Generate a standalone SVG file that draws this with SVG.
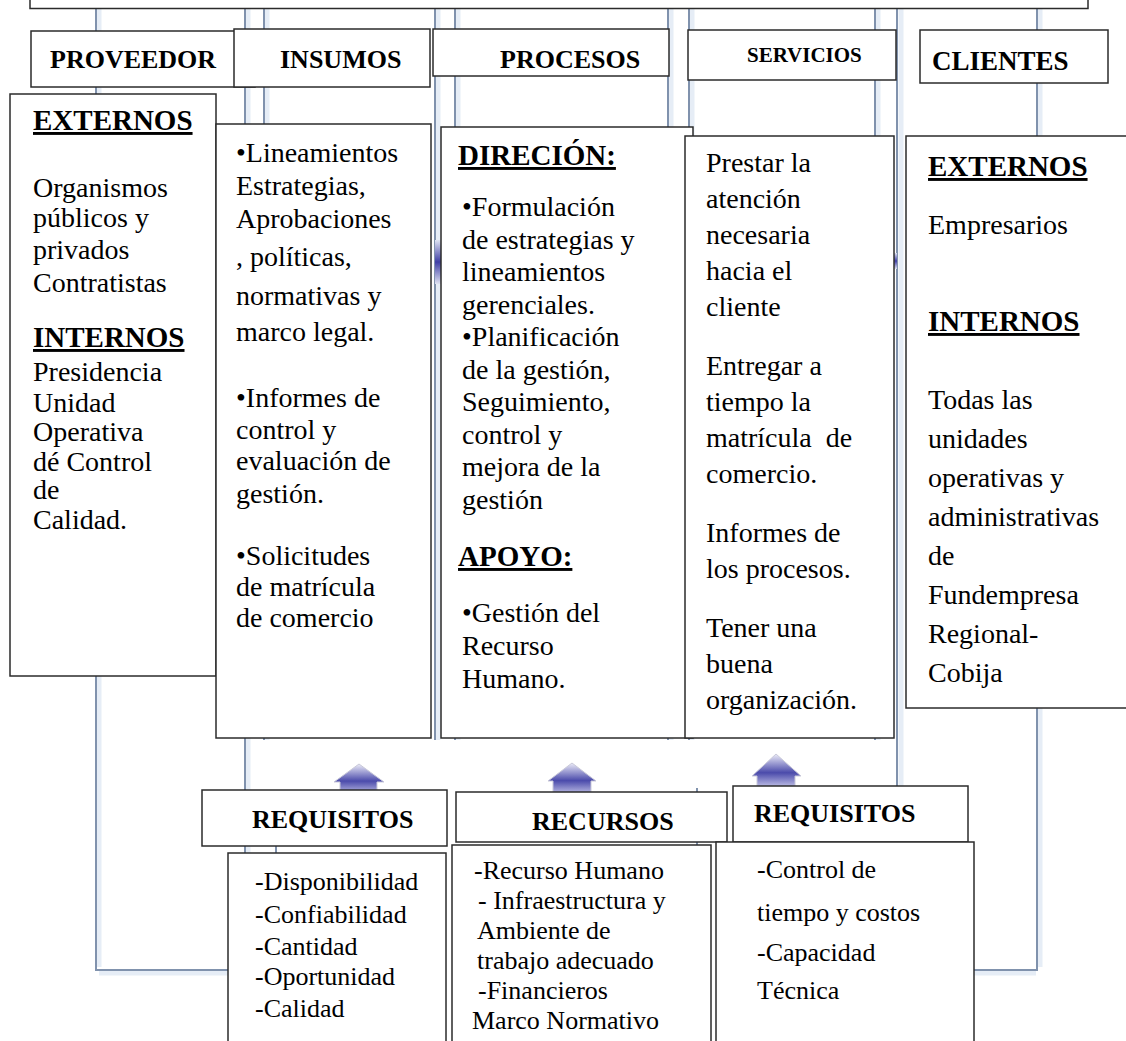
<svg xmlns="http://www.w3.org/2000/svg" width="1126" height="1041" viewBox="0 0 1126 1041">
  <style>
    .box { fill: #ffffff; stroke: #2b2b2b; stroke-width: 1.5; }
    .rail { stroke: #8092ad; stroke-width: 2; fill: none; }
    .glow { stroke: #e6edf6; stroke-width: 5; fill: none; }
    .t { font-family: "Liberation Serif", "Times New Roman", serif; fill: #000; }
    .hd { font-weight: bold; font-size: 26px; }
    .body { font-size: 28px; }
    .sub { font-weight: bold; font-size: 29px; text-decoration: underline; }
    .small { font-size: 26px; }
  </style>
  <defs>
    <linearGradient id="houseFill" x1="0" y1="0" x2="0" y2="1">
      <stop offset="0" stop-color="#ececf8"/>
      <stop offset="0.55" stop-color="#4b4bab"/>
      <stop offset="1" stop-color="#c8c8ea"/>
    </linearGradient>
    <linearGradient id="sideFill" x1="0" y1="0" x2="0" y2="1">
      <stop offset="0" stop-color="#dfe3f2"/>
      <stop offset="0.5" stop-color="#3f3fa6"/>
      <stop offset="1" stop-color="#dfe3f2"/>
    </linearGradient>
  </defs>

  <rect width="1126" height="1041" fill="#ffffff"/>

  <!-- frame rails and flow arrows behind the boxes -->
  <g id="connectors">
    <path class="glow" d="M99 8 V967 M248 8 V1041 M267 8 V740 M438 8 V740 M458 8 V740 M671 8 V740 M692 8 V740 M878 8 V740 M901 8 V788 M1040 8 V967 M99 973 H228 M974 973 H1036"/>
    <path class="rail" d="M96 8 V970 H228 M245 8 V1041 M264 8 V740 M435 8 V740 M455 8 V740 M668 8 V740 M689 8 V740 M875 8 V740 M897 8 V788 M1037 8 V970 H970"/>
    <path class="rail" d="M276 795 H447 M276 795 V853 M464 795 H690 M697 788 V845"/>
    <rect x="435" y="240" width="6" height="44" fill="url(#sideFill)"/>
    <rect x="893" y="253" width="4" height="16" fill="url(#sideFill)"/>
    <path d="M334 782 L359 764 L384 782 H377 V795 H340 V782 Z" fill="url(#houseFill)" stroke="#c9c9d9" stroke-width="1"/>
    <path d="M548 781 L572 763 L596 781 H591 V795 H553 V781 Z" fill="url(#houseFill)" stroke="#c9c9d9" stroke-width="1"/>
    <path d="M752 776 L776 754 L801 776 H795 V788 H757 V776 Z" fill="url(#houseFill)" stroke="#c9c9d9" stroke-width="1"/>
  </g>

  <g id="title-frame">
    <rect class="box" x="30" y="-20" width="1058" height="28.5"/>
  </g>

  <!-- column headers -->
  <g id="hdr-proveedor">
    <rect class="box" x="31" y="31" width="224" height="56"/>
    <text class="t hd" x="50" y="68">PROVEEDOR</text>
  </g>
  <g id="hdr-insumos">
    <rect class="box" x="234" y="29" width="196" height="58"/>
    <text class="t hd" x="280" y="68">INSUMOS</text>
  </g>
  <g id="hdr-procesos">
    <rect class="box" x="433" y="29" width="236" height="47"/>
    <text class="t hd" x="500" y="68">PROCESOS</text>
  </g>
  <g id="hdr-servicios">
    <rect class="box" x="688" y="30" width="208" height="50"/>
    <text class="t" x="747" y="62" font-weight="bold" font-size="21">SERVICIOS</text>
  </g>
  <g id="hdr-clientes">
    <rect class="box" x="920" y="30" width="188" height="53"/>
    <text class="t" x="932" y="70" font-weight="bold" font-size="27">CLIENTES</text>
  </g>

  <!-- proveedores -->
  <g id="proveedores">
    <rect class="box" x="10" y="94" width="206" height="582"/>
    <text class="t sub" x="33" y="130">EXTERNOS</text>
    <text class="t body" x="33" y="197">Organismos</text>
    <text class="t body" x="33" y="227">públicos y</text>
    <text class="t body" x="33" y="259">privados</text>
    <text class="t body" x="33" y="292">Contratistas</text>
    <text class="t sub" x="33" y="347">INTERNOS</text>
    <text class="t body" x="33" y="381">Presidencia</text>
    <text class="t body" x="33" y="412">Unidad</text>
    <text class="t body" x="33" y="441">Operativa</text>
    <text class="t body" x="33" y="471">dé Control</text>
    <text class="t body" x="33" y="499">de</text>
    <text class="t body" x="33" y="529">Calidad.</text>
  </g>

  <!-- insumos -->
  <g id="insumos">
    <rect class="box" x="216" y="124" width="215" height="614"/>
    <text class="t body" x="236" y="162">•Lineamientos</text>
    <text class="t body" x="236" y="195">Estrategias,</text>
    <text class="t body" x="236" y="228">Aprobaciones</text>
    <text class="t body" x="236" y="266">, políticas,</text>
    <text class="t body" x="236" y="305">normativas y</text>
    <text class="t body" x="236" y="341">marco legal.</text>
    <text class="t body" x="236" y="407">•Informes de</text>
    <text class="t body" x="236" y="439">control y</text>
    <text class="t body" x="236" y="470">evaluación de</text>
    <text class="t body" x="236" y="503">gestión.</text>
    <text class="t body" x="236" y="565">•Solicitudes</text>
    <text class="t body" x="236" y="596">de matrícula</text>
    <text class="t body" x="236" y="627">de comercio</text>
  </g>

  <!-- procesos -->
  <g id="procesos">
    <rect class="box" x="441" y="127" width="252" height="611"/>
    <text class="t sub" x="458" y="165">DIRECIÓN:</text>
    <text class="t body" x="462" y="216">•Formulación</text>
    <text class="t body" x="462" y="249">de estrategias y</text>
    <text class="t body" x="462" y="281">lineamientos</text>
    <text class="t body" x="462" y="314">gerenciales.</text>
    <text class="t body" x="462" y="346">•Planificación</text>
    <text class="t body" x="462" y="379">de la gestión,</text>
    <text class="t body" x="462" y="411">Seguimiento,</text>
    <text class="t body" x="462" y="444">control y</text>
    <text class="t body" x="462" y="476">mejora de la</text>
    <text class="t body" x="462" y="509">gestión</text>
    <text class="t sub" x="458" y="566">APOYO:</text>
    <text class="t body" x="462" y="622">•Gestión del</text>
    <text class="t body" x="462" y="655">Recurso</text>
    <text class="t body" x="462" y="688">Humano.</text>
  </g>

  <!-- servicios -->
  <g id="servicios">
    <rect class="box" x="685" y="136" width="209" height="602"/>
    <text class="t body" x="706" y="172">Prestar la</text>
    <text class="t body" x="706" y="208">atención</text>
    <text class="t body" x="706" y="244">necesaria</text>
    <text class="t body" x="706" y="280">hacia el</text>
    <text class="t body" x="706" y="316">cliente</text>
    <text class="t body" x="706" y="375">Entregar a</text>
    <text class="t body" x="706" y="411">tiempo la</text>
    <text class="t body" x="706" y="447" xml:space="preserve">matrícula  de</text>
    <text class="t body" x="706" y="483">comercio.</text>
    <text class="t body" x="706" y="542">Informes de</text>
    <text class="t body" x="706" y="578">los procesos.</text>
    <text class="t body" x="706" y="637">Tener una</text>
    <text class="t body" x="706" y="673">buena</text>
    <text class="t body" x="706" y="709">organización.</text>
  </g>

  <!-- clientes -->
  <g id="clientes">
    <rect class="box" x="906" y="136" width="230" height="572"/>
    <text class="t sub" x="928" y="176">EXTERNOS</text>
    <text class="t body" x="928" y="234">Empresarios</text>
    <text class="t sub" x="928" y="331">INTERNOS</text>
    <text class="t body" x="928" y="409">Todas las</text>
    <text class="t body" x="928" y="448">unidades</text>
    <text class="t body" x="928" y="487">operativas y</text>
    <text class="t body" x="928" y="526">administrativas</text>
    <text class="t body" x="928" y="565">de</text>
    <text class="t body" x="928" y="604">Fundempresa</text>
    <text class="t body" x="928" y="643">Regional-</text>
    <text class="t body" x="928" y="682">Cobija</text>
  </g>

  <!-- requisitos de insumos -->
  <g id="requisitos-insumos">
    <rect class="box" x="202" y="790" width="245" height="56"/>
    <text class="t hd" x="252" y="828">REQUISITOS</text>
  </g>
  <g id="lista-requisitos-insumos">
    <rect class="box" x="228" y="853" width="218" height="200"/>
    <text class="t small" x="255" y="890">-Disponibilidad</text>
    <text class="t small" x="255" y="923">-Confiabilidad</text>
    <text class="t small" x="255" y="955">-Cantidad</text>
    <text class="t small" x="255" y="985">-Oportunidad</text>
    <text class="t small" x="255" y="1017">-Calidad</text>
  </g>

  <!-- recursos -->
  <g id="recursos">
    <rect class="box" x="456" y="792" width="271" height="50"/>
    <text class="t hd" x="532" y="830">RECURSOS</text>
  </g>
  <g id="lista-recursos">
    <rect class="box" x="452" y="845" width="259" height="208"/>
    <text class="t small" x="474" y="879">-Recurso Humano</text>
    <text class="t small" x="478" y="909">- Infraestructura y</text>
    <text class="t small" x="477" y="939">Ambiente de</text>
    <text class="t small" x="477" y="969">trabajo adecuado</text>
    <text class="t small" x="478" y="999">-Financieros</text>
    <text class="t small" x="472" y="1029">Marco Normativo</text>
  </g>

  <!-- requisitos de servicios -->
  <g id="requisitos-servicios">
    <rect class="box" x="733" y="786" width="235" height="56"/>
    <text class="t hd" x="754" y="822">REQUISITOS</text>
  </g>
  <g id="lista-requisitos-servicios">
    <rect class="box" x="716" y="842" width="258" height="211"/>
    <text class="t small" x="757" y="878">-Control de</text>
    <text class="t small" x="757" y="921">tiempo y costos</text>
    <text class="t small" x="757" y="961">-Capacidad</text>
    <text class="t small" x="757" y="999">Técnica</text>
  </g>
</svg>
